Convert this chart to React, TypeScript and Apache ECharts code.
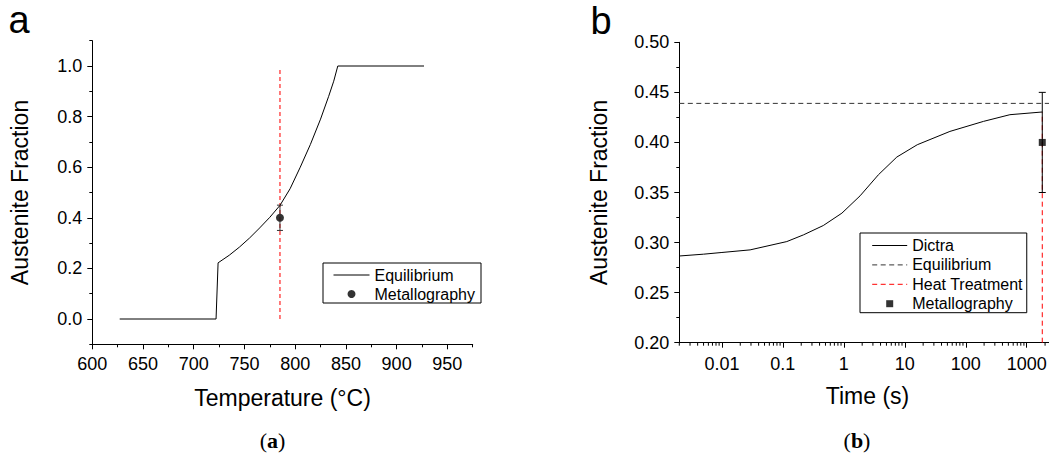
import React, { useEffect, useRef } from 'react';
import * as echarts from 'echarts';

const FONT = '"Liberation Sans", Arial, Helvetica, sans-serif';
const SERIF = '"Liberation Serif", "DejaVu Serif", serif';

// ---- Panel (a): equilibrium austenite fraction vs temperature
const eqTemp = [627, 722, 724, 735, 745, 755, 765, 775, 785, 795, 805, 815, 825, 833, 838, 842, 927];
const eqFrac = [0, 0, 0.222, 0.252, 0.284, 0.32, 0.36, 0.402, 0.449, 0.515, 0.6, 0.69, 0.79, 0.88, 0.94, 1.0, 1.0];
const heatTempA = 785;
const heatSpanA = [0, 0.99];
const metTempA = [785];
const metFracA = [0.4];
const metErrA = [0.05];

// ---- Panel (b): austenite fraction vs time
const dictraTime = [0.002, 0.005, 0.01, 0.029, 0.116, 0.218, 0.46, 0.93, 1.85, 3.69, 7.4, 16, 55, 195, 530, 1800];
const dictraFrac = [0.2866, 0.2884, 0.2901, 0.2927, 0.301, 0.3077, 0.317, 0.3294, 0.3467, 0.3677, 0.3854, 0.3977, 0.411, 0.421, 0.4277, 0.4304];
const eqFracB = 0.439;
const eqSpanB = [0.002, 3000];
const heatTimeB = 1800;
const heatSpanB = [0.2, 0.43];
const metTimeB = [1800];
const metFracB = [0.4];
const metErrB = [0.05];

// ---- Tick labels
const tempTicks = [600, 650, 700, 750, 800, 850, 900, 950];
const tempMinorTicks = [625, 675, 725, 775, 825, 875, 925, 975];
const fracTicksA = [0, 0.2, 0.4, 0.6, 0.8, 1.0];
const fracMinorTicksA = [-0.1, 0.1, 0.3, 0.5, 0.7, 0.9, 1.1];
const timeDecades = [0.001, 0.01, 0.1, 1, 10, 100, 1000];
const timeMinorTicks = timeDecades
  .flatMap((d) => [2, 3, 4, 5, 6, 7, 8, 9].map((k) => k * d))
  .filter((v) => v >= 0.002 && v <= 3000);

const black = '#000';
const SQUARE = 'path://M0 0H10V10H0Z';

const errorBar = (cap: number, color: string) => (params: any, api: any) => {
  const x = api.value(0);
  const lo = api.value(1);
  const hi = api.value(2);
  const a = api.coord([x, lo]);
  const b = api.coord([x, hi]);
  const st = { stroke: color, lineWidth: 1 };
  return {
    type: 'group',
    children: [
      { type: 'line', shape: { x1: a[0], y1: a[1], x2: b[0], y2: b[1] }, style: st },
      { type: 'line', shape: { x1: a[0] - cap, y1: a[1], x2: a[0] + cap, y2: a[1] }, style: st },
      { type: 'line', shape: { x1: b[0] - cap, y1: b[1], x2: b[0] + cap, y2: b[1] }, style: st },
    ],
  };
};

const labelStyle = { fontSize: 18, color: black, fontFamily: FONT };
const nameStyle = { fontSize: 23, color: black, fontFamily: FONT };
const lineSt = { color: black, width: 1 };
const hideSymbol = { color: 'rgba(0,0,0,0)', borderColor: 'rgba(0,0,0,0)', borderWidth: 0, opacity: 0 };

function buildOption(): any {
  return {
    animation: false,
    backgroundColor: '#fff',
    grid: [
      { left: 92.3, top: 40.7, width: 380.4, height: 303.6 },
      { left: 679.3, top: 42.3, width: 376.5, height: 300.4 },
    ],
    xAxis: [
      {
        type: 'value', gridIndex: 0, min: 600, max: 975, position: 'bottom',
        axisLine: { show: true, onZero: false, lineStyle: lineSt },
        axisTick: { show: true, inside: false, length: 5, customValues: tempTicks, lineStyle: lineSt },
        axisLabel: { customValues: tempTicks, margin: 11, ...labelStyle, formatter: (v: number) => String(v) },
        splitLine: { show: false },
        name: 'Temperature (°C)', nameLocation: 'middle', nameGap: 42, nameTextStyle: nameStyle,
      },
      {
        type: 'value', gridIndex: 0, min: 600, max: 975, position: 'bottom',
        axisLine: { show: false, onZero: false },
        axisTick: { show: true, inside: false, length: 3, customValues: tempMinorTicks, lineStyle: lineSt },
        axisLabel: { show: false },
        splitLine: { show: false },
      },
      {
        type: 'log', logBase: 10, gridIndex: 1, min: 0.002, max: 3000, position: 'bottom',
        axisLine: { show: true, onZero: false, lineStyle: lineSt },
        axisTick: { show: true, inside: false, length: 5, lineStyle: lineSt },
        axisLabel: {
          margin: 12, ...labelStyle, showMinLabel: false, showMaxLabel: false,
          formatter: (v: number) => {
            const e = Math.log10(v);
            const r = Math.round(e);
            if (Math.abs(e - r) > 1e-6) return '';
            return r < 0 ? Math.pow(10, r).toFixed(-r) : String(Math.round(Math.pow(10, r)));
          },
        },
        splitLine: { show: false },
        minorTick: { show: false },
        name: 'Time (s)', nameLocation: 'middle', nameGap: 42, nameTextStyle: nameStyle,
      },
    ],
    yAxis: [
      {
        type: 'value', gridIndex: 0, min: -0.1, max: 1.1, position: 'left',
        axisLine: { show: true, onZero: false, lineStyle: lineSt },
        axisTick: { show: true, inside: false, length: 5, customValues: fracTicksA, lineStyle: lineSt },
        axisLabel: { customValues: fracTicksA, margin: 10, ...labelStyle, formatter: (v: number) => v.toFixed(1) },
        splitLine: { show: false },
        name: 'Austenite Fraction', nameLocation: 'middle', nameGap: 61, nameTextStyle: nameStyle,
      },
      {
        type: 'value', gridIndex: 0, min: -0.1, max: 1.1, position: 'left',
        axisLine: { show: false, onZero: false },
        axisTick: { show: true, inside: false, length: 3, customValues: fracMinorTicksA, lineStyle: lineSt },
        axisLabel: { show: false },
        splitLine: { show: false },
      },
      {
        type: 'value', gridIndex: 1, min: 0.2, max: 0.5, interval: 0.05, position: 'left',
        axisLine: { show: true, onZero: false, lineStyle: lineSt },
        axisTick: { show: true, inside: false, length: 5, lineStyle: lineSt },
        minorTick: { show: true, splitNumber: 2, length: 3, lineStyle: lineSt },
        minorSplitLine: { show: false },
        axisLabel: { margin: 10, ...labelStyle, formatter: (v: number) => v.toFixed(2) },
        splitLine: { show: false },
        name: 'Austenite Fraction', nameLocation: 'middle', nameGap: 69, nameTextStyle: nameStyle,
      },
    ],
    legend: [
      {
        data: [{ name: 'a:Equilibrium', itemStyle: hideSymbol }, { name: 'a:Metallography' }],
        orient: 'vertical', left: 323, top: 263,
        itemWidth: 36, itemHeight: 8, itemGap: 1,
        padding: [3, 6, 0, 10],
        borderColor: black, borderWidth: 1, backgroundColor: '#fff',
        symbolKeepAspect: true,
        lineStyle: { width: 1 },
        textStyle: { fontSize: 16, lineHeight: 18, color: black, fontFamily: FONT },
        formatter: (n: string) => n.slice(2),
        selectedMode: false,
      },
      {
        data: [
          { name: 'b:Dictra', itemStyle: hideSymbol },
          { name: 'b:Equilibrium', itemStyle: hideSymbol },
          { name: 'b:Heat Treatment', itemStyle: hideSymbol },
          { name: 'b:Metallography' },
        ],
        orient: 'vertical', left: 860, top: 233,
        itemWidth: 35, itemHeight: 7, itemGap: 1.4,
        padding: [3.5, 4, 0, 11.7],
        borderColor: black, borderWidth: 1, backgroundColor: '#fff',
        symbolKeepAspect: true,
        lineStyle: { width: 1 },
        textStyle: { fontSize: 16, lineHeight: 18, color: black, fontFamily: FONT },
        formatter: (n: string) => n.slice(2),
        selectedMode: false,
      },
    ],
    graphic: [
      { type: 'text', x: 8.5, y: 19.5, style: { text: 'a', fontSize: 38, fontFamily: FONT, fill: black, align: 'left', verticalAlign: 'middle' } },
      { type: 'text', x: 590.5, y: 21, style: { text: 'b', fontSize: 38, fontFamily: FONT, fill: black, align: 'left', verticalAlign: 'middle' } },
      {
        type: 'text', x: 272.5, y: 440,
        style: {
          text: '({b|a})', fontSize: 22, fontFamily: SERIF, fill: black, align: 'center', verticalAlign: 'middle',
          rich: { b: { fontSize: 22, fontFamily: SERIF, fontWeight: 'bold', fill: black } },
        },
      },
      {
        type: 'text', x: 857, y: 440,
        style: {
          text: '({b|b})', fontSize: 22, fontFamily: SERIF, fill: black, align: 'center', verticalAlign: 'middle',
          rich: { b: { fontSize: 22, fontFamily: SERIF, fontWeight: 'bold', fill: black } },
        },
      },
    ],
    series: [
      // Panel (a)
      {
        name: 'a:Heat', type: 'line', xAxisIndex: 0, yAxisIndex: 0,
        data: heatSpanA.map((f) => [heatTempA, f]), symbol: 'none', silent: true,
        lineStyle: { color: '#ff5c5c', width: 1.6, type: [4, 3] }, z: 1,
      },
      {
        name: 'a:Equilibrium', type: 'line', xAxisIndex: 0, yAxisIndex: 0,
        data: eqTemp.map((t, i) => [t, eqFrac[i]]), symbol: 'none',
        lineStyle: { color: black, width: 1 }, itemStyle: { color: black }, z: 2,
      },
      {
        name: 'a:Metallography', type: 'scatter', xAxisIndex: 0, yAxisIndex: 0,
        data: metTempA.map((t, i) => [t, metFracA[i]]), symbol: 'circle', symbolSize: 8,
        itemStyle: { color: black }, z: 3,
      },
      {
        name: 'a:err', type: 'custom', xAxisIndex: 0, yAxisIndex: 0, clip: false,
        data: metTempA.map((t, i) => [t, metFracA[i] - metErrA[i], metFracA[i] + metErrA[i]]),
        encode: { x: 0, y: [1, 2] }, renderItem: errorBar(3, '#333'), z: 4,
      },
      // Panel (b)
      {
        name: 'b:Dictra', type: 'line', xAxisIndex: 2, yAxisIndex: 2,
        data: dictraTime.map((t, i) => [t, dictraFrac[i]]), symbol: 'none',
        lineStyle: { color: black, width: 1 }, itemStyle: { color: black }, z: 2,
      },
      {
        name: 'b:Equilibrium', type: 'line', xAxisIndex: 2, yAxisIndex: 2,
        data: eqSpanB.map((t) => [t, eqFracB]), symbol: 'none',
        lineStyle: { color: '#333', width: 1, type: [5, 3.5] }, itemStyle: { color: '#333' }, z: 2,
      },
      {
        name: 'b:Heat Treatment', type: 'line', xAxisIndex: 2, yAxisIndex: 2,
        data: heatSpanB.map((f) => [heatTimeB, f]), symbol: 'none',
        lineStyle: { color: '#ff0000', width: 1, type: [5, 3.5] }, itemStyle: { color: '#ff0000' }, z: 1,
      },
      {
        name: 'b:Metallography', type: 'scatter', xAxisIndex: 2, yAxisIndex: 2,
        data: metTimeB.map((t, i) => [t, metFracB[i]]), symbol: SQUARE, symbolKeepAspect: true, symbolSize: 7,
        itemStyle: { color: black }, z: 3,
      },
      {
        name: 'b:err', type: 'custom', xAxisIndex: 2, yAxisIndex: 2, clip: false,
        data: metTimeB.map((t, i) => [t, metFracB[i] - metErrB[i], metFracB[i] + metErrB[i]]),
        encode: { x: 0, y: [1, 2] }, renderItem: errorBar(3.5, black), z: 4,
      },
      {
        name: 'b:minorTicks', type: 'custom', xAxisIndex: 2, yAxisIndex: 2, clip: false, silent: true,
        data: timeMinorTicks.map((t) => [t, 0.2]),
        encode: { x: 0, y: 1 },
        renderItem: (params: any, api: any) => {
          const p = api.coord([api.value(0), api.value(1)]);
          return { type: 'line', shape: { x1: p[0], y1: p[1], x2: p[0], y2: p[1] + 3 }, style: { stroke: black, lineWidth: 1 } };
        },
        z: 5,
      },
    ],
  };
}

export default function App() {
  const ref = useRef<HTMLDivElement>(null);
  useEffect(() => {
    if (!ref.current) return;
    const chart = echarts.init(ref.current, null, { renderer: 'svg' });
    chart.setOption(buildOption());
    return () => chart.dispose();
  }, []);
  return (
    <div style={{ position: 'fixed', left: 0, top: 0, width: 1049, height: 456, overflow: 'hidden', background: '#fff' }}>
      <div ref={ref} style={{ width: 1060, height: 456 }} />
    </div>
  );
}
